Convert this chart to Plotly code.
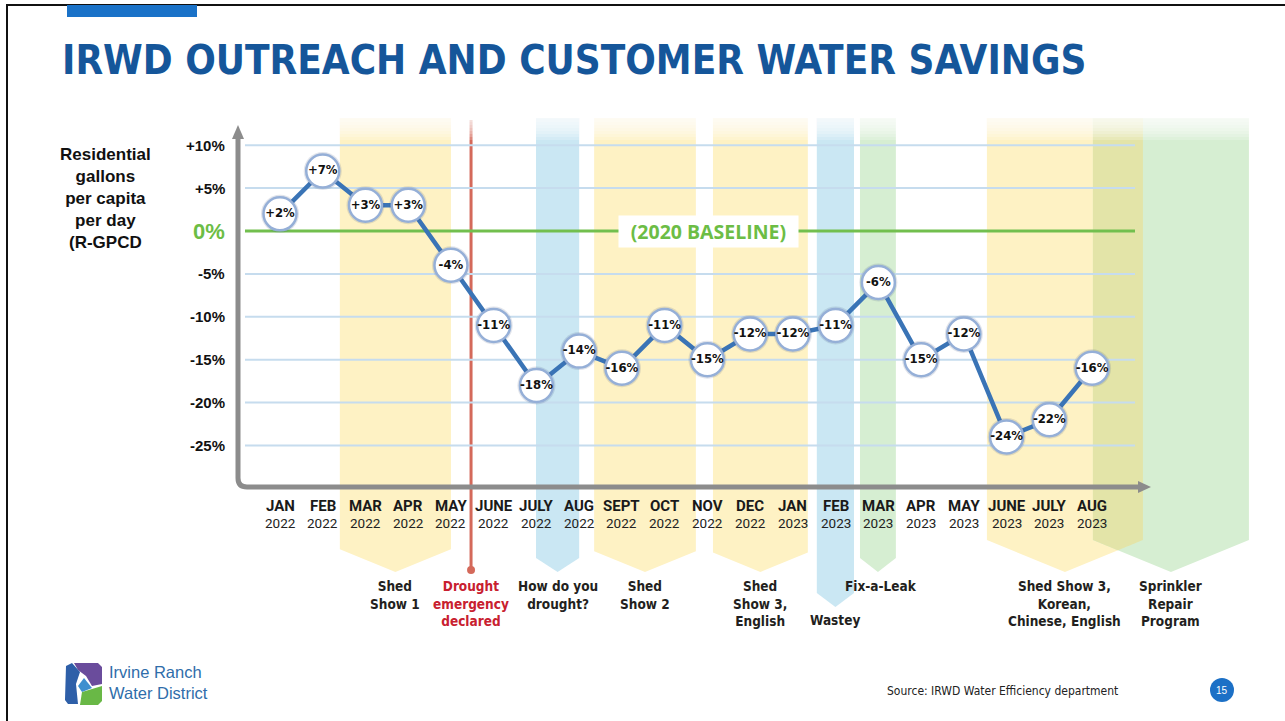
import plotly.graph_objects as go

# ---------------- data ----------------
months = ["JAN", "FEB", "MAR", "APR", "MAY", "JUNE", "JULY", "AUG", "SEPT", "OCT",
          "NOV", "DEC", "JAN", "FEB", "MAR", "APR", "MAY", "JUNE", "JULY", "AUG"]
years = ["2022"] * 12 + ["2023"] * 8
savings = [2, 7, 3, 3, -4, -11, -18, -14, -16, -11, -15, -12, -12, -11, -6, -15, -12, -24, -22, -16]
ytick_vals = [10, 5, 0, -5, -10, -15, -20, -25]
ytick_text = ["+10%", "+5%", "0%", "-5%", "-10%", "-15%", "-20%", "-25%"]

campaign_names = ["Shed<br>Show 1", "How do you<br>drought?", "Shed<br>Show 2",
                  "Shed<br>Show 3,<br>English", "Wastey", "Fix-a-Leak",
                  "Shed Show 3,<br>Korean,<br>Chinese, English", "Sprinkler<br>Repair<br>Program"]
campaign_start = [1.40, 5.99, 7.35, 10.13, 12.56, 13.57, 16.54, 19.02]   # month index
campaign_end = [4.00, 7.00, 9.73, 12.35, 13.43, 14.41, 20.19, 22.67]
campaign_kind = ["shed", "video", "shed", "shed", "video", "leak", "shed", "leak"]
drought_month = 4.47
drought_label = "Drought<br>emergency<br>declared"

# ---------------- styling / geometry ----------------
W, H = 1285, 721
X0PX, DX = 280.0, 42.74      # px of first month, px per month
Y0PX, DY = 231.0, 8.58       # px of 0 %, px per 1 %

def xi(px):
    return (px - X0PX) / DX

def yv(py):
    return (Y0PX - py) / DY

def xpx(i):
    return X0PX + i * DX

def P(px, py):
    return f"{px / W:.5f},{1 - py / H:.5f}"

band_color = {"shed": "#FEF2C4", "video": "#CAE7F3", "leak": "#D6EED2"}
NARROW = "Liberation Sans Narrow, DejaVu Sans Condensed, Arial Narrow, sans-serif"
SANS = "Liberation Sans, Arial, Helvetica, sans-serif"
DIN = "Roboto, Liberation Sans, Arial, sans-serif"

fig = go.Figure()
shapes = []
annotations = []

BAND_TOP = 118
def band_geom(k):
    x0p, x1p = xpx(campaign_start[k]), xpx(campaign_end[k])
    hw = (x1p - x0p) / 2
    tip = 607 if campaign_names[k] == "Wastey" else 572
    drop = max(14, 0.41 * hw)
    return x0p, x1p, hw, tip, drop

def bottom_at(k, x):
    x0p, x1p, hw, tip, drop = band_geom(k)
    c = (x0p + x1p) / 2
    return tip - drop * abs(x - c) / hw

# bands (chevrons)
for k in range(len(campaign_names)):
    x0p, x1p, hw, tip, drop = band_geom(k)
    c = (x0p + x1p) / 2
    pts = [(x0p, BAND_TOP), (x1p, BAND_TOP), (x1p, tip - drop), (c, tip), (x0p, tip - drop)]
    path = "M " + " L ".join(f"{xi(a):.4f},{yv(b):.4f}" for a, b in pts) + " Z"
    shapes.append(dict(type="path", path=path, xref="x", yref="y", layer="below",
                       fillcolor=band_color[campaign_kind[k]], line=dict(width=0)))

# overlap of overlapping bands (darker olive tone)
for a in range(len(campaign_names)):
    for b in range(a + 1, len(campaign_names)):
        ox0 = max(xpx(campaign_start[a]), xpx(campaign_start[b]))
        ox1 = min(xpx(campaign_end[a]), xpx(campaign_end[b]))
        if ox1 > ox0 + 1:
            n = 24
            xs = [ox0 + (ox1 - ox0) * t / n for t in range(n + 1)]
            bot = [(x, min(bottom_at(a, x), bottom_at(b, x))) for x in xs]
            pts = [(ox0, BAND_TOP), (ox1, BAND_TOP)] + bot[::-1]
            path = "M " + " L ".join(f"{xi(p):.4f},{yv(q):.4f}" for p, q in pts) + " Z"
            shapes.append(dict(type="path", path=path, xref="x", yref="y", layer="below",
                               fillcolor="#E3E4A8", line=dict(width=0)))

# drought line
shapes.append(dict(type="line", xref="x", yref="y", layer="below",
                   x0=drought_month, x1=drought_month, y0=yv(120), y1=yv(569),
                   line=dict(color="#D4695A", width=3)))
shapes.append(dict(type="circle", xref="x", yref="y", layer="below",
                   x0=xi(xpx(drought_month) - 4), x1=xi(xpx(drought_month) + 4),
                   y0=yv(566), y1=yv(574), fillcolor="#D4695A", line=dict(width=0)))

# top fade of the bands
for s in range(9):
    shapes.append(dict(type="rect", xref="x", yref="y", layer="below",
                       x0=xi(320), x1=xi(1265), y0=yv(114), y1=yv(116 + s * 3.0),
                       fillcolor="rgba(255,255,255,0.2)", line=dict(width=0)))

# gridlines
for v in ytick_vals:
    if v == 0:
        continue
    shapes.append(dict(type="line", xref="x", yref="y", layer="below",
                       x0=xi(245), x1=xi(1135), y0=v, y1=v,
                       line=dict(color="#C6DCEE", width=2)))
# baseline
shapes.append(dict(type="line", xref="x", yref="y", layer="below",
                   x0=xi(245), x1=xi(1135), y0=0, y1=0,
                   line=dict(color="#72BF4E", width=3)))

# axes (gray arrows with rounded corner)
ax_path = (f"M {xi(238):.4f},{yv(137):.4f} L {xi(238):.4f},{yv(478):.4f} "
           f"Q {xi(238):.4f},{yv(487):.4f} {xi(247):.4f},{yv(487):.4f} L {xi(1139):.4f},{yv(487):.4f}")
shapes.append(dict(type="path", path=ax_path, xref="x", yref="y", layer="below",
                   line=dict(color="#8C8C8C", width=5)))
for tri in ([(232, 139), (244, 139), (238, 125)], [(1138, 481), (1138, 493), (1151, 487)]):
    path = "M " + " L ".join(f"{xi(a):.4f},{yv(b):.4f}" for a, b in tri) + " Z"
    shapes.append(dict(type="path", path=path, xref="x", yref="y", layer="below",
                       fillcolor="#8C8C8C", line=dict(width=0)))

# ---------------- traces ----------------
idx = list(range(len(savings)))
labels = [f"{v:+d}%" for v in savings]
fig.add_trace(go.Scatter(x=idx, y=savings, mode="lines",
                         line=dict(color="#3A74B6", width=4.5), hoverinfo="skip"))
fig.add_trace(go.Scatter(x=idx, y=savings, mode="markers",
                         marker=dict(size=38, color="rgba(70,90,130,0.16)"), hoverinfo="skip"))
fig.add_trace(go.Scatter(x=idx, y=savings, mode="markers+text", text=labels,
                         textposition="middle center",
                         textfont=dict(family=NARROW, size=13, color="#111111", weight="bold"),
                         marker=dict(size=33, color="white", line=dict(color="#95AFD7", width=2.5)),
                         hoverinfo="skip"))

# ---------------- text ----------------
annotations.append(dict(x=xi(708), y=0, xref="x", yref="y",
                        text="\u2002(2020 BASELINE)\u2002",
                        showarrow=False, bgcolor="white", borderpad=2,
                        font=dict(family="Open Sans, Liberation Sans, sans-serif", size=19.5,
                                  color="#6CBD45", weight="bold"),
                        xanchor="center", yanchor="middle"))

# y tick labels
for v, t in zip(ytick_vals, ytick_text):
    if v == 0:
        annotations.append(dict(x=xi(227), y=v, xref="x", yref="y", text=t, showarrow=False,
                                xanchor="right", yanchor="middle",
                                font=dict(family=SANS, size=22, color="#6CBD45", weight="bold")))
    else:
        annotations.append(dict(x=xi(227), y=v, xref="x", yref="y", text=t, showarrow=False,
                                xanchor="right", yanchor="middle",
                                font=dict(family=SANS, size=15, color="#111111", weight="bold")))

# x tick labels
for i, (m, yr) in enumerate(zip(months, years)):
    annotations.append(dict(x=i, y=yv(506), xref="x", yref="y", text=m, showarrow=False,
                            xanchor="center", yanchor="middle",
                            font=dict(family=DIN, size=15, color="#1A1A1A", weight="bold")))
    annotations.append(dict(x=i, y=yv(523), xref="x", yref="y", text=yr, showarrow=False,
                            xanchor="center", yanchor="middle",
                            font=dict(family=DIN, size=13.5, color="#222222")))

# campaign labels
for k, name in enumerate(campaign_names):
    c = (campaign_start[k] + campaign_end[k]) / 2
    top = 576
    if name == "Wastey":
        top = 610
    if name == "Fix-a-Leak":
        c += 0.07
    annotations.append(dict(x=c, y=yv(top), xref="x", yref="y", text=name, showarrow=False,
                            xanchor="center", yanchor="top", align="center",
                            font=dict(family=NARROW, size=13.5, color="#231F20", weight="bold")))
annotations.append(dict(x=drought_month, y=yv(576), xref="x", yref="y", text=drought_label,
                        showarrow=False, xanchor="center", yanchor="top", align="center",
                        font=dict(family=NARROW, size=13.5, color="#C8202F", weight="bold")))

# y axis title
annotations.append(dict(x=105 / W, y=1 - 198 / H, xref="paper", yref="paper",
                        text="Residential<br>gallons<br>per capita<br>per day<br>(R-GPCD",
                        showarrow=False, xanchor="center", yanchor="middle", align="center",
                        font=dict(family=SANS, size=17, color="#111111", weight="bold")))

# title
annotations.append(dict(x=60 / W, y=1 - 60 / H, xref="paper", yref="paper",
                        text="IRWD OUTREACH AND CUSTOMER WATER SAVINGS",
                        showarrow=False, xanchor="left", yanchor="middle",
                        font=dict(family=NARROW, size=40, color="#15569A", weight="bold")))

# footer
annotations.append(dict(x=107 / W, y=1 - 682 / H, xref="paper", yref="paper",
                        text="Irvine Ranch<br>Water District", showarrow=False,
                        xanchor="left", yanchor="middle", align="left",
                        font=dict(family=SANS, size=16.5, color="#2F6DAA")))
annotations.append(dict(x=1120 / W, y=1 - 691 / H, xref="paper", yref="paper",
                        text="Source: IRWD Water Efficiency department", showarrow=False,
                        xanchor="right", yanchor="middle",
                        font=dict(family=NARROW, size=12, color="#222222")))
annotations.append(dict(x=1222 / W, y=1 - 690 / H, xref="paper", yref="paper",
                        text="15", showarrow=False, xanchor="center", yanchor="middle",
                        font=dict(family=SANS, size=10, color="white")))

# decorative shapes in paper coords
shapes.append(dict(type="circle", xref="paper", yref="paper",
                   x0=1210 / W, x1=1234 / W, y0=1 - 702 / H, y1=1 - 678 / H,
                   fillcolor="#1C70C6", line=dict(width=0)))
# frame
shapes.append(dict(type="path", xref="paper", yref="paper",
                   path=f"M {P(7, 725)} L {P(7, 5)} L {P(1290, 5)}",
                   line=dict(color="#111111", width=2)))
shapes.append(dict(type="rect", xref="paper", yref="paper",
                   x0=67 / W, x1=197 / W, y0=1 - 17 / H, y1=1 - 5 / H,
                   fillcolor="#1A72C8", line=dict(width=0)))
# logo
logo_parts = [
    ("#6A4C9C", [(74, 663), (98, 663), (102, 667), (102, 684), (92, 686), (86, 676), (78, 670)]),
    ("#2E5FA8", [(66, 666), (72, 663), (80, 672), (76, 684), (78, 704), (68, 704), (65, 700)]),
    ("#69B846", [(82, 692), (102, 686), (102, 701), (98, 705), (80, 705)]),
    ("#3E8FCF", [(84, 678), (92, 688), (82, 692), (78, 686)]),
]
for col, pts in logo_parts:
    path = "M " + " L ".join(P(a, b) for a, b in pts) + " Z"
    shapes.append(dict(type="path", path=path, xref="paper", yref="paper",
                       fillcolor=col, line=dict(width=0)))

fig.update_layout(
    width=W, height=H,
    margin=dict(l=0, r=0, t=0, b=0),
    paper_bgcolor="white", plot_bgcolor="white",
    showlegend=False,
    xaxis=dict(visible=False, range=[xi(0), xi(W)], fixedrange=True),
    yaxis=dict(visible=False, range=[yv(H), yv(0)], fixedrange=True),
    shapes=shapes,
    annotations=annotations,
    hovermode=False,
)

fig.write_html("out.html", config={"displayModeBar": False},
               post_script="document.body.style.margin='0px';document.body.style.overflow='hidden';")
